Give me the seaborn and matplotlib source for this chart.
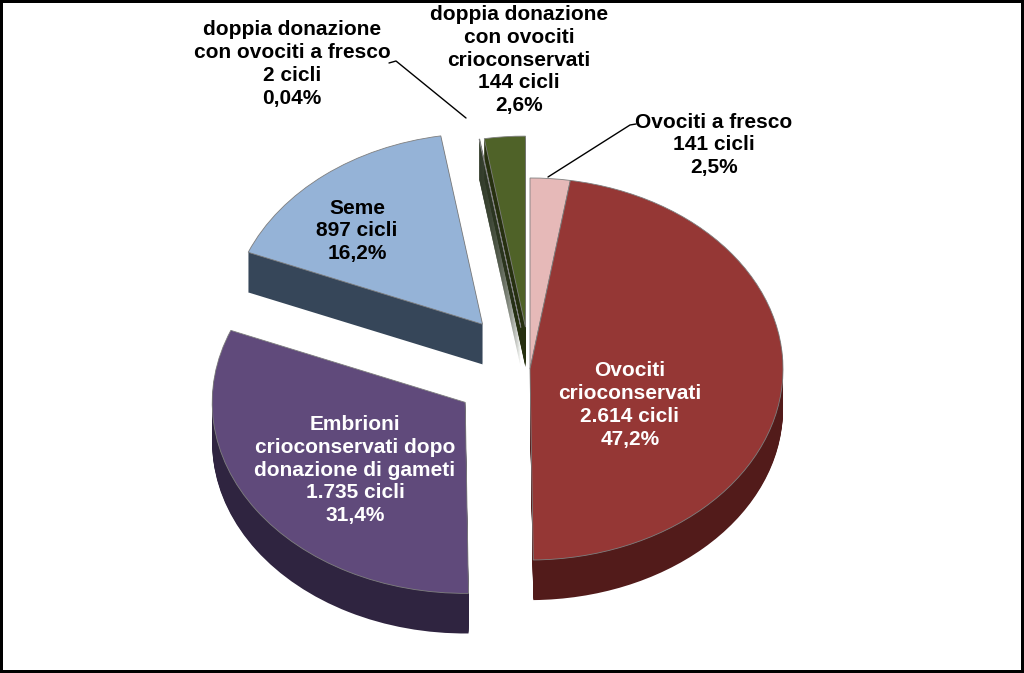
import numpy as np
import matplotlib
matplotlib.use("Agg")
import matplotlib.pyplot as plt
import seaborn as sns

# data (clockwise from 12 o'clock)
categories = ["Ovociti a fresco", "Ovociti crioconservati",
              "Embrioni crioconservati dopo donazione di gameti", "Seme",
              "doppia donazione con ovociti a fresco",
              "doppia donazione con ovociti crioconservati"]
cicli = [141, 2614, 1735, 897, 2, 144]
cicli_labels = ["141", "2.614", "1.735", "897", "2", "144"]
percent_labels = ["2,5%", "47,2%", "31,4%", "16,2%", "0,04%", "2,6%"]
explode = [0.0, 0.0, 0.31, 0.30, 0.22, 0.22]

top_colors = ["#E6B9B8", "#953735", "#604A7B", "#95B3D7", "#5B6B4A", "#4F6228"]
side_colors = ["#8C6B6B", "#521B1A", "#2F2440", "#364659", "#2E3826", "#26300F"]

sns.set_theme(style="white")
plt.rcParams["font.family"] = ["Liberation Sans", "DejaVu Sans"]

fig = plt.figure(figsize=(10.24, 6.73), dpi=100, edgecolor="black", linewidth=4)
ax = fig.add_axes([0, 0, 1, 1])

# extruded sides: stack of shifted pies
depth = 0.21
for d in np.linspace(depth, 0.005, 40):
    ax.pie(cicli, explode=explode, startangle=90, counterclock=False,
           colors=side_colors, center=(0, -d),
           wedgeprops=dict(linewidth=0, antialiased=True))

# top faces
ax.pie(cicli, explode=explode, startangle=90, counterclock=False,
       colors=top_colors, center=(0, 0),
       wedgeprops=dict(linewidth=0.6, edgecolor="#7f7f7f"))

# map unit circle to a flattened ellipse
ax.set_aspect("auto")
ax.set_xlim(-530 / 253, (1024 - 530) / 253)
ax.set_ylim(-304 / 191, (673 - 304) / 191)
ax.axis("off")

font = dict(fontsize=15, fontweight="bold", ha="center", va="center",
            transform=fig.transFigure, linespacing=1.26)

def fpos(x, y):
    return x / 1024, 1 - y / 673

def lbl(i, name):
    return f"{name}\n{cicli_labels[i]} cicli\n{percent_labels[i]}"

fig.text(*fpos(357, 231), lbl(3, "Seme"), color="black", **font)
fig.text(*fpos(355, 470), lbl(2, "Embrioni\ncrioconservati dopo\ndonazione di gameti"),
         color="white", **font)
fig.text(*fpos(630, 405), lbl(1, "Ovociti\ncrioconservati"), color="white", **font)
fig.text(*fpos(292, 64), lbl(4, "doppia donazione\ncon ovociti a fresco"), color="black", **font)
fig.text(*fpos(519, 60), lbl(5, "doppia donazione\ncon ovociti\ncrioconservati"), color="black", **font)
fig.text(*fpos(714, 145), lbl(0, "Ovociti a fresco"), color="black", **font)

# leader lines
for xs, ys in [([389, 396, 466], [63, 61, 118]), ([636, 630, 548], [124, 125, 177])]:
    fig.add_artist(plt.Line2D([x / 1024 for x in xs], [1 - y / 673 for y in ys],
                              color="black", linewidth=1, transform=fig.transFigure))

fig.savefig("out.png", dpi=100, facecolor="white", edgecolor="black")
